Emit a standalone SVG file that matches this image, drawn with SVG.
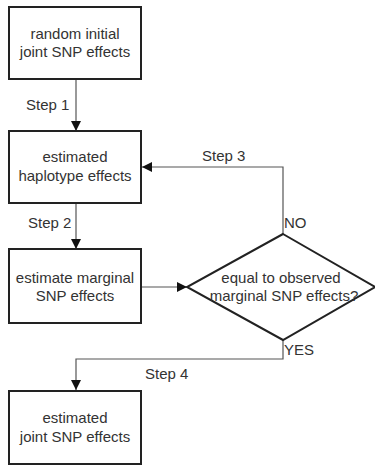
<svg xmlns="http://www.w3.org/2000/svg" width="375" height="467" viewBox="0 0 375 467">
<style>
.box{fill:#fff;stroke:#222;stroke-width:2}
.t{font-family:"Liberation Sans",Arial,sans-serif;font-size:15px;fill:#333}
.c{text-anchor:middle}
.ln{fill:none;stroke:#555;stroke-width:1.2}
</style>
<defs>
<marker id="ah" viewBox="0 0 10 10" refX="10" refY="5" markerWidth="10" markerHeight="10" markerUnits="userSpaceOnUse" orient="auto">
<path d="M0,0 L10,5 L0,10 z" fill="#111"/>
</marker>
</defs>
<rect width="375" height="467" fill="#fff"/>
<g id="connectors">
<line class="ln" x1="76" y1="80" x2="76" y2="131" marker-end="url(#ah)"/>
<line class="ln" x1="76" y1="203" x2="76" y2="249" marker-end="url(#ah)"/>
<line class="ln" x1="141" y1="287" x2="187" y2="287" marker-end="url(#ah)"/>
<polyline class="ln" points="283,234 283,167 142,167" marker-end="url(#ah)"/>
<polyline class="ln" points="283,340 283,359 76,359 76,390" marker-end="url(#ah)"/>
<text class="t" x="26" y="110">Step 1</text>
<text class="t" x="28" y="228">Step 2</text>
<text class="t" x="202" y="161">Step 3</text>
<text class="t" x="145" y="379">Step 4</text>
<text class="t" x="284" y="228">NO</text>
<text class="t" x="284" y="355">YES</text>
</g>
<g id="n1">
<rect class="box" x="9" y="7" width="132" height="72"/>
<text class="t c" x="75" y="39">random initial</text>
<text class="t c" x="75" y="57">joint SNP effects</text>
</g>
<g id="n2">
<rect class="box" x="9" y="131" width="132" height="72"/>
<text class="t c" x="75" y="162">estimated</text>
<text class="t c" x="75" y="181">haplotype effects</text>
</g>
<g id="n3">
<rect class="box" x="9" y="249" width="132" height="74"/>
<text class="t c" x="75" y="283">estimate marginal</text>
<text class="t c" x="75" y="301">SNP effects</text>
</g>
<g id="n4">
<polygon class="box" points="283,234 375,287 283,340 187,287"/>
<text class="t c" x="281" y="283">equal to observed</text>
<text class="t c" x="284" y="301">marginal SNP effects?</text>
</g>
<g id="n5">
<rect class="box" x="9" y="391" width="132" height="73"/>
<text class="t c" x="75" y="423">estimated</text>
<text class="t c" x="75" y="442">joint SNP effects</text>
</g>
</svg>
